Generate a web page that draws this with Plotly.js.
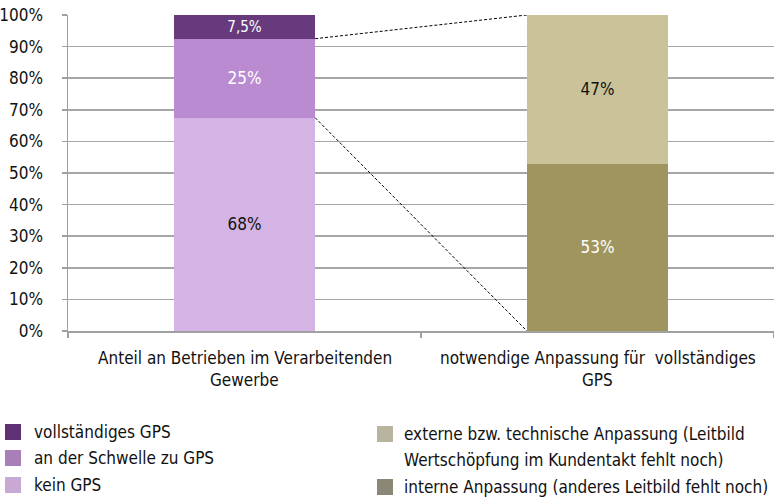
<!DOCTYPE html>
<html>
<head>
<meta charset="utf-8">
<script src="https://cdn.plot.ly/plotly-3.0.1.min.js"></script>
<style>html,body{margin:0;padding:0;background:#fff}#chart{width:774px;height:497px}</style>
</head>
<body>
<div id="chart"></div>
<script>
const categories = ["Anteil an Betrieben im Verarbeitenden<br>Gewerbe", "notwendige Anpassung für  vollständiges<br>GPS"];
const seriesNames = ["kein GPS", "an der Schwelle zu GPS", "vollständiges GPS",
  "interne Anpassung (anderes Leitbild fehlt noch)", "externe bzw. technische Anpassung (Leitbild<br>Wertschöpfung im Kundentakt fehlt noch)"];
const keinGPS = [67.5, null];
const schwelleGPS = [25, null];
const vollGPS = [7.5, null];
const interne = [null, 53];
const externe = [null, 47];
const labelKein = ["68%", ""];
const labelSchwelle = ["25%", ""];
const labelVoll = ["7,5%", ""];
const labelInterne = ["", "53%"];
const labelExterne = ["", "47%"];
const yTickVals = [0, 10, 20, 30, 40, 50, 60, 70, 80, 90, 100];
const yTickText = ["0%", "10%", "20%", "30%", "40%", "50%", "60%", "70%", "80%", "90%", "100%"];

const FONT = "'DejaVu Sans Condensed', 'Liberation Sans Narrow', sans-serif";
const FS = 17;
const barColors = ["#d4b4e4", "#bb8bd1", "#663a7c", "#a0955e", "#cac399"];
const legendColors = ["#c9a8d2", "#a97fb8", "#5e3272", "#8a8777", "#b8b49f"];
const textColors = ["#111111", "#ffffff", "#ffffff", "#ffffff", "#111111"];
const seriesVals = [keinGPS, schwelleGPS, vollGPS, interne, externe];
const seriesLabels = [labelKein, labelSchwelle, labelVoll, labelInterne, labelExterne];
const BW = 0.4;

const traces = seriesVals.map((v, i) => ({
  type: "bar", x: categories, y: v, text: seriesLabels[i], name: seriesNames[i],
  width: BW, marker: {color: barColors[i]},
  textposition: "inside", insidetextanchor: "middle", textangle: 0,
  textfont: {family: FONT, size: FS, color: textColors[i]},
  hoverinfo: "skip", showlegend: false, cliponaxis: false
}));

// connector lines from left bar to right bar
const topOfSchwelle = keinGPS[0] + schwelleGPS[0];
const topOfKein = keinGPS[0];
const rightTotal = interne[1] + externe[1];
const shapes = [
  {type: "line", xref: "x", yref: "y", x0: 0 + BW/2, y0: topOfSchwelle, x1: 1 - BW/2, y1: rightTotal,
   line: {color: "#000", width: 1, dash: "3px,2px"}},
  {type: "line", xref: "x", yref: "y", x0: 0 + BW/2, y0: topOfKein, x1: 1 - BW/2, y1: 0,
   line: {color: "#000", width: 1, dash: "3px,2px"}}
];

// custom legend (pixel positions converted to paper coordinates)
const L = 68, R = 774, T = 15, B = 331;
const px = x => (x - L) / (R - L);
const py = y => (B - y) / (B - T);
const annotations = [];
function legendText(text, tx, ty) {
  annotations.push({xref: "paper", yref: "paper", x: px(tx), y: py(ty), xanchor: "left", yanchor: "middle",
    text: text, showarrow: false, align: "left", font: {family: FONT, size: FS, color: "#111"}});
}
function legendItem(color, text, sx, sy, tx) {
  shapes.push({type: "rect", xref: "paper", yref: "paper",
    x0: px(sx), x1: px(sx + 16), y0: py(sy - 8), y1: py(sy + 8),
    fillcolor: color, line: {width: 0}});
  legendText(text, tx, sy);
}
const extLines = seriesNames[4].split("<br>");
legendItem(legendColors[2], seriesNames[2], 5, 432, 32);
legendItem(legendColors[1], seriesNames[1], 5, 458, 32);
legendItem(legendColors[0], seriesNames[0], 5, 485, 32);
legendItem(legendColors[4], extLines[0], 377, 434, 402);
legendText(extLines[1], 402, 460);
legendItem(legendColors[3], seriesNames[3], 377, 487, 402);

// x category labels as annotations for line spacing control
categories.forEach((c, i) => {
  c.split("<br>").forEach((line, j) => {
    annotations.push({xref: "x", yref: "paper", x: i, y: py(358 + 22 * j), xanchor: "center", yanchor: "middle",
      text: line, showarrow: false, font: {family: FONT, size: FS, color: "#111"}});
  });
});

const layout = {
  width: 774, height: 497,
  margin: {l: L, r: 774 - R, t: T, b: 497 - B, pad: 0},
  paper_bgcolor: "#fff", plot_bgcolor: "#fff",
  barmode: "stack", showlegend: false,
  font: {family: FONT, size: FS, color: "#111"},
  xaxis: {type: "category", range: [-0.5, 1.5], tickson: "boundaries", ticks: "outside", ticklen: 5,
    tickcolor: "#a0a0a0", tickwidth: 1.5, showline: true, linecolor: "#a0a0a0", linewidth: 1.5,
    showgrid: false, showticklabels: false, fixedrange: true},
  yaxis: {range: [0, 100], tickmode: "array", tickvals: yTickVals, ticktext: yTickText, ticks: "outside", ticklen: 5,
    tickcolor: "#a0a0a0", tickwidth: 1.5, showline: true, linecolor: "#a0a0a0", linewidth: 1.5,
    showgrid: true, gridcolor: "#a6a6a6", gridwidth: 1.5, zeroline: false,
    tickfont: {family: FONT, size: FS, color: "#111"}, ticklabelstandoff: 15, fixedrange: true},
  shapes: shapes, annotations: annotations
};

Plotly.newPlot("chart", traces, layout, {staticPlot: true, displayModeBar: false});
</script>
</body>
</html>
